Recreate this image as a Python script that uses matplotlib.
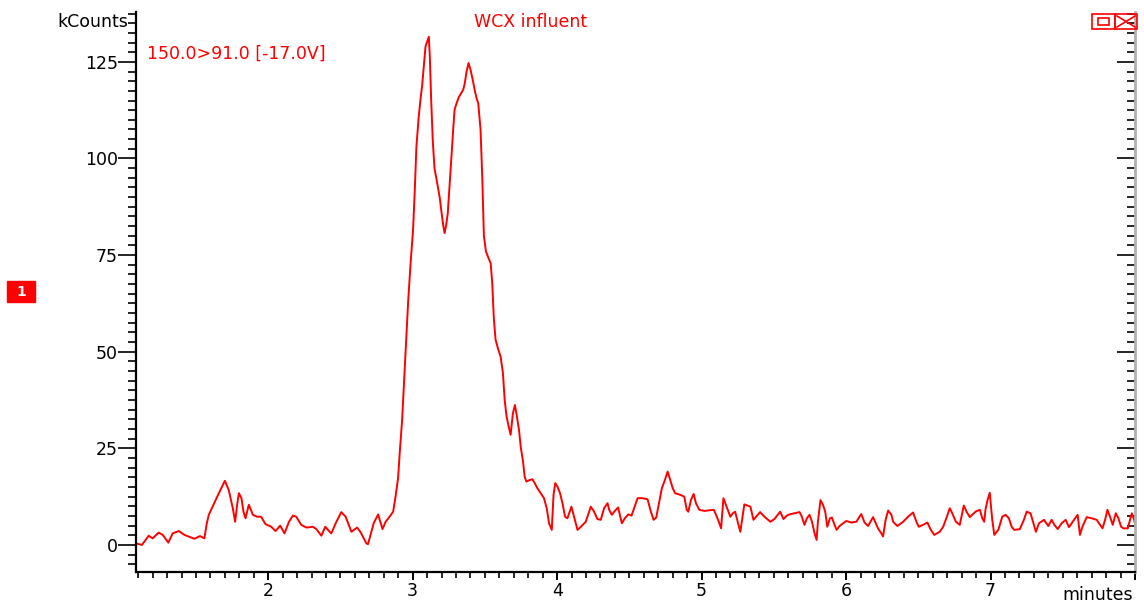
import numpy as np
import matplotlib
matplotlib.use('Agg')
import matplotlib.pyplot as plt
from matplotlib.patches import Rectangle
from matplotlib.lines import Line2D
from matplotlib.ticker import MultipleLocator, FixedLocator

##############################
#          数据
##############################
# 保留时间 (minutes)
rt_minutes = [
    1.085, 1.126, 1.173, 1.200, 1.242, 1.270, 1.309, 1.339, 1.381, 1.420,
    1.489, 1.528, 1.558, 1.575, 1.589, 1.621, 1.651, 1.681, 1.700, 1.727,
    1.755, 1.771, 1.785, 1.797, 1.815, 1.829, 1.843, 1.866, 1.894, 1.922,
    1.951, 1.981, 2.021, 2.051, 2.083, 2.113, 2.144, 2.171, 2.194, 2.229,
    2.264, 2.310, 2.333, 2.368, 2.395, 2.421, 2.437, 2.467, 2.506, 2.536,
    2.576, 2.615, 2.638, 2.680, 2.691, 2.730, 2.761, 2.791, 2.813, 2.846,
    2.865, 2.883, 2.899, 2.911, 2.927, 2.941, 2.955, 2.969, 2.985, 3.003,
    3.015, 3.026, 3.042, 3.054, 3.066, 3.077, 3.089, 3.112, 3.119, 3.128,
    3.139, 3.151, 3.170, 3.188, 3.200, 3.212, 3.221, 3.232, 3.243, 3.253,
    3.267, 3.281, 3.290, 3.304, 3.320, 3.336, 3.350, 3.361, 3.373, 3.387,
    3.401, 3.415, 3.429, 3.442, 3.454, 3.470, 3.482, 3.493, 3.507, 3.521,
    3.540, 3.551, 3.562, 3.574, 3.590, 3.609, 3.625, 3.637, 3.650, 3.662,
    3.678, 3.694, 3.708, 3.720, 3.736, 3.748, 3.764, 3.775, 3.787, 3.810,
    3.829, 3.845, 3.863, 3.886, 3.909, 3.928, 3.944, 3.963, 3.975, 3.987,
    4.002, 4.020, 4.037, 4.055, 4.071, 4.083, 4.099, 4.117, 4.141, 4.164,
    4.198, 4.233, 4.256, 4.279, 4.302, 4.325, 4.349, 4.360, 4.379, 4.395,
    4.422, 4.448, 4.469, 4.492, 4.515, 4.533, 4.557, 4.592, 4.626, 4.649,
    4.668, 4.686, 4.707, 4.725, 4.746, 4.765, 4.783, 4.800, 4.816, 4.857,
    4.880, 4.897, 4.908, 4.926, 4.945, 4.961, 4.984, 5.019, 5.084, 5.100,
    5.119, 5.135, 5.151, 5.164, 5.181, 5.199, 5.216, 5.232, 5.250, 5.268,
    5.280, 5.296, 5.338, 5.359, 5.377, 5.405, 5.435, 5.476, 5.504, 5.544,
    5.567, 5.590, 5.608, 5.643, 5.678, 5.694, 5.712, 5.729, 5.747, 5.764,
    5.782, 5.796, 5.805, 5.823, 5.840, 5.856, 5.870, 5.888, 5.902, 5.920,
    5.935, 5.955, 6.001, 6.036, 6.071, 6.105, 6.128, 6.152, 6.187, 6.221,
    6.244, 6.256, 6.274, 6.291, 6.314, 6.326, 6.355, 6.395, 6.429, 6.464,
    6.487, 6.503, 6.533, 6.563, 6.584, 6.610, 6.648, 6.672, 6.690, 6.718,
    6.735, 6.760, 6.787, 6.815, 6.834, 6.857, 6.873, 6.896, 6.926, 6.943,
    6.956, 6.965, 6.979, 6.988, 6.995, 7.002, 7.012, 7.026, 7.054, 7.081,
    7.104, 7.127, 7.146, 7.164, 7.203, 7.231, 7.250, 7.277, 7.300, 7.314,
    7.335, 7.370, 7.400, 7.423, 7.442, 7.465, 7.492, 7.520, 7.543, 7.578,
    7.603, 7.619, 7.636, 7.666, 7.700, 7.735, 7.758, 7.775, 7.793, 7.809,
    7.827, 7.846, 7.867, 7.885, 7.904, 7.920, 7.950, 7.978, 7.994, 8.006,
]

# 强度 (kCounts)
intensity_k = [
    0.4, 0.0, 2.4, 1.7, 3.2, 2.6, 0.6, 3.0, 3.6, 2.6,
    1.6, 2.3, 1.7, 5.6, 7.8, 10.4, 12.8, 15.1, 16.6, 14.2,
    9.5, 6.0, 10.4, 13.4, 12.1, 8.6, 6.9, 10.4, 7.8, 7.3,
    7.3, 5.4, 4.7, 3.6, 5.0, 3.0, 6.0, 7.6, 7.3, 5.2,
    4.5, 4.7, 4.1, 2.4, 4.7, 3.6, 3.0, 5.6, 8.5, 7.3,
    3.4, 4.5, 3.4, 0.4, 0.2, 5.6, 7.9, 4.1, 6.0, 7.6,
    8.6, 12.9, 17.3, 24.1, 32.3, 42.7, 53.2, 63.1, 72.5, 81.7,
    92.1, 103.1, 110.8, 115.2, 119.0, 123.8, 129.0, 131.5, 126.2, 115.3,
    104.8, 97.5, 93.6, 89.7, 86.0, 82.6, 80.7, 82.8, 85.8, 91.4,
    99.6, 107.8, 112.6, 114.3, 115.9, 116.9, 117.8, 119.5, 122.5, 124.7,
    122.9, 120.5, 117.8, 115.6, 114.3, 107.4, 94.9, 80.0, 76.0, 74.6,
    72.9, 67.7, 58.5, 53.1, 50.9, 48.7, 44.4, 37.5, 33.2, 31.1,
    28.5, 34.1, 36.2, 33.6, 29.8, 25.4, 21.6, 17.7, 16.4, 16.8,
    17.0, 16.0, 14.7, 13.4, 12.1, 9.5, 5.6, 3.9, 12.9, 16.0,
    15.1, 13.4, 10.8, 7.3, 6.9, 8.2, 9.9, 7.3, 3.9, 4.7,
    6.0, 9.9, 8.6, 6.7, 6.5, 9.5, 10.8, 9.1, 7.8, 8.6,
    9.7, 5.6, 6.9, 7.9, 7.6, 9.5, 12.1, 12.1, 11.8, 8.6,
    6.5, 7.1, 11.2, 14.7, 16.8, 19.0, 16.8, 14.7, 13.4, 12.9,
    12.5, 9.1, 8.6, 11.6, 13.2, 10.8, 9.1, 8.8, 9.1, 7.8,
    6.0, 4.3, 12.1, 10.8, 9.1, 7.3, 8.2, 8.6, 6.0, 3.4,
    6.5, 10.5, 9.9, 6.5, 7.3, 8.5, 7.3, 6.0, 6.7, 8.6,
    6.7, 7.6, 7.9, 8.2, 8.5, 7.3, 5.2, 6.9, 7.8, 6.0,
    3.0, 1.3, 6.0, 11.6, 10.4, 8.6, 4.7, 6.9, 7.1, 5.2,
    3.9, 4.9, 6.2, 5.8, 6.0, 8.0, 5.8, 4.9, 7.2, 4.3,
    3.0, 2.2, 6.5, 8.9, 7.8, 6.0, 4.9, 6.0, 7.3, 8.4,
    6.0, 4.7, 5.2, 5.8, 4.1, 2.6, 3.4, 4.7, 6.5, 9.5,
    8.2, 6.0, 5.2, 10.2, 8.6, 7.2, 7.8, 8.6, 9.1, 6.9,
    6.0, 9.1, 11.6, 12.7, 13.5, 10.4, 6.5, 2.6, 3.9, 7.3,
    7.8, 6.9, 4.7, 3.9, 4.1, 6.5, 8.6, 8.2, 5.2, 3.4,
    5.6, 6.5, 4.9, 6.5, 5.2, 4.1, 5.6, 6.5, 4.6, 6.5,
    7.8, 2.6, 4.7, 7.2, 6.9, 6.5, 5.2, 4.3, 6.5, 9.1,
    7.3, 5.2, 8.2, 6.9, 4.7, 4.3, 4.3, 8.2, 6.5, 4.3,
]

x_tick_values = [2, 3, 4, 5, 6, 7, 8]
x_tick_labels = ['2', '3', '4', '5', '6', '7', '']
y_tick_values = [0, 25, 50, 75, 100, 125]

trace_title = 'WCX influent'
trace_label = '150.0>91.0 [-17.0V]'

##############################
#          绘图
##############################
plt.rcParams['font.family'] = ['DejaVu Sans']
RED = '#ff0000'
FS = 12.5

W, H = 1144, 602
fig = plt.figure(figsize=(W / 100, H / 100), dpi=100)
ax = fig.add_axes([136 / W, 1 - 572 / H, (1135 - 136) / W, (572 - 12) / H])

ax.plot(rt_minutes, intensity_k, color=RED, lw=1.4)

ax.set_xlim(1.085, 8.0)
ax.set_ylim(-7.0, 137.9)

# 坐标轴外观
ax.spines['top'].set_visible(False)
ax.spines['left'].set_linewidth(1.6)
ax.spines['bottom'].set_linewidth(1.6)
ax.spines['right'].set_color('#b0b0b0')
ax.spines['right'].set_linewidth(2.0)

ax.xaxis.set_major_locator(FixedLocator(x_tick_values))
ax.set_xticklabels(x_tick_labels)
ax.xaxis.set_minor_locator(MultipleLocator(0.1))
ax.yaxis.set_major_locator(FixedLocator(y_tick_values))
ax.yaxis.set_minor_locator(MultipleLocator(2.5))

ax.tick_params(axis='y', which='major', direction='out', length=13, width=1.2,
               pad=0, labelsize=FS, right=True)
ax.tick_params(axis='y', which='minor', direction='out', length=6, width=1.2,
               right=True)
ax.tick_params(axis='x', which='major', direction='out', length=6, width=1.4,
               pad=1, labelsize=FS)
ax.tick_params(axis='x', which='minor', direction='out', length=4, width=1.2)

# 右侧刻度朝内
for t in ax.yaxis.get_major_ticks() + ax.yaxis.get_minor_ticks():
    t.tick2line.set_marker(matplotlib.lines.TICKLEFT)

# 文字
fig.text(128 / W, 1 - 22 / H, 'kCounts', ha='right', va='center', fontsize=FS)
fig.text(531 / W, 1 - 22 / H, trace_title, ha='center', va='center',
         fontsize=FS, color=RED)
fig.text(147 / W, 1 - 54 / H, trace_label, ha='left', va='center',
         fontsize=FS, color=RED)
fig.text(1133 / W, 1 - 595 / H, 'minutes', ha='right', va='center', fontsize=FS)

# 左侧红色通道标记 "1"
fig.patches.append(Rectangle((7 / W, 1 - 302 / H), 28 / W, 21 / H,
                             transform=fig.transFigure, color=RED))
fig.text(21 / W, 1 - 292 / H, '1', ha='center', va='center', fontsize=10,
         color='white', fontweight='bold')

# 右上角窗口按钮
fig.patches.append(Rectangle((1092 / W, 1 - 29 / H), 23 / W, 15 / H,
                             transform=fig.transFigure, fill=False, ec=RED, lw=1.2))
fig.patches.append(Rectangle((1098 / W, 1 - 25 / H), 11 / W, 7 / H,
                             transform=fig.transFigure, fill=False, ec=RED, lw=1.2))
fig.patches.append(Rectangle((1115 / W, 1 - 29 / H), 22 / W, 15 / H,
                             transform=fig.transFigure, fill=False, ec=RED, lw=1.2))
fig.lines.append(Line2D([1117 / W, 1135 / W], [1 - 16 / H, 1 - 27 / H],
                        transform=fig.transFigure, color=RED, lw=1.2))
fig.lines.append(Line2D([1117 / W, 1135 / W], [1 - 27 / H, 1 - 16 / H],
                        transform=fig.transFigure, color=RED, lw=1.2))

fig.savefig('out.png', dpi=100)
